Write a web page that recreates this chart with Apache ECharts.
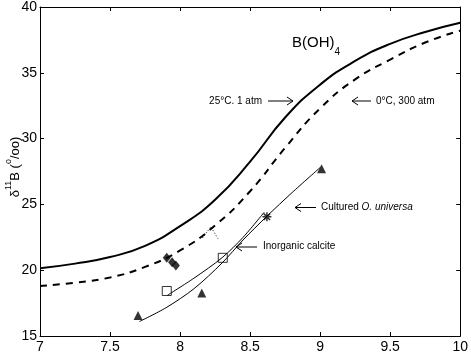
<!DOCTYPE html>
<html><head><meta charset="utf-8">
<script src="https://cdn.jsdelivr.net/npm/echarts@6/dist/echarts.min.js"></script>
<style>html,body{margin:0;padding:0;background:#fff}#c{width:471px;height:355px}</style>
</head><body><div id="c"></div>
<script>
// Tick values
const xTicks = [7, 7.5, 8, 8.5, 9, 9.5, 10];
const yTicks = [15, 20, 25, 30, 35, 40];

// B(OH)4 curve, 25°C, 1 atm (solid)
const pH25 = [7.0, 7.25, 7.5, 7.75, 8.0, 8.25, 8.5, 8.75, 9.0, 9.25, 9.5, 9.75, 10.0];
const d25  = [20.15, 20.5, 21.0, 21.85, 23.35, 25.35, 28.25, 31.6, 34.1, 35.9, 37.2, 38.1, 38.8];

// B(OH)4 curve, 0°C, 300 atm (dashed)
const pH0 = [7.0, 7.25, 7.5, 7.75, 8.0, 8.25, 8.5, 8.75, 9.0, 9.25, 9.5, 9.75, 10.0];
const d0  = [18.8, 19.05, 19.45, 20.25, 21.5, 23.4, 26.0, 29.3, 32.3, 34.5, 36.0, 37.3, 38.2];

// Cultured O. universa fit (thin line)
const pHCult = [7.71, 7.9, 8.1, 8.3, 8.45, 8.62, 8.8, 9.0];
const dCult  = [16.1, 17.15, 18.6, 20.55, 22.3, 24.1, 25.9, 27.8];

// Inorganic calcite fit (thin line)
const pHInorg = [7.91, 8.1, 8.3, 8.45, 8.6];
const dInorg  = [18.1, 19.4, 20.95, 22.5, 24.4];

// Cultured O. universa data (filled triangles)
const pHTri = [7.70, 8.155, 9.01];
const dTri  = [16.55, 18.27, 27.71];

// Inorganic calcite data (open squares)
const pHSq = [7.905, 8.305];
const dSq  = [18.42, 20.94];

// Filled diamonds
const pHDia = [7.905, 7.943, 7.97];
const dDia  = [20.94, 20.61, 20.36];

// Asterisk
const pHAst = [8.62];
const dAst  = [24.06];

// small dotted mark
const pHDot = [8.16, 8.22, 8.27];
const dDot  = [22.45, 23.3, 22.4];

const zip = (a, b) => a.map((v, i) => [v, b[i]]);

const chart = echarts.init(document.getElementById('c'), null, {renderer: 'canvas'});
const FONT = 'Liberation Sans, Arial, Helvetica, sans-serif';

const axisCommon = {
  axisLine: {show: true, lineStyle: {color: '#000', width: 1}},
  axisTick: {show: true, inside: true, length: 4, lineStyle: {color: '#000', width: 1}},
  splitLine: {show: false}
};

function arrow(x1, x2, y, headLeft) {
  const hx = headLeft ? x1 : x2;
  const d = headLeft ? 6 : -6;
  return [
    {type: 'line', shape: {x1: x1, y1: y, x2: x2, y2: y}, style: {stroke: '#000', lineWidth: 1}, silent: true},
    {type: 'polyline', shape: {points: [[hx + d, y - 4], [hx, y], [hx + d, y + 4]]}, style: {stroke: '#000', lineWidth: 1, fill: null}, silent: true}
  ];
}

const option = {
  animation: false,
  backgroundColor: '#fff',
  grid: {left: 40, right: 9, top: 5, bottom: 19, containLabel: false},
  xAxis: [
    Object.assign({type: 'value', min: 7, max: 10, interval: 0.5, position: 'bottom',
      axisLabel: {color: '#000', fontSize: 14, fontFamily: FONT, margin: 4}}, axisCommon),
    Object.assign({type: 'value', min: 7, max: 10, interval: 0.5, position: 'top',
      axisLabel: {show: false}}, axisCommon)
  ],
  yAxis: [
    Object.assign({type: 'value', min: 15, max: 40, interval: 5, position: 'left',
      axisLabel: {color: '#000', fontSize: 14, fontFamily: FONT, margin: 3}}, axisCommon),
    Object.assign({type: 'value', min: 15, max: 40, interval: 5, position: 'right',
      axisLabel: {show: false}}, axisCommon)
  ],
  series: [
    {type: 'line', data: zip(pH25, d25), smooth: 0.5, symbol: 'none',
     lineStyle: {color: '#000', width: 2}},
    {type: 'line', data: zip(pH0, d0), smooth: 0.5, symbol: 'none',
     lineStyle: {color: '#000', width: 2, type: [7, 6]}},
    {type: 'line', data: zip(pHCult, dCult), smooth: 0.3, symbol: 'none',
     lineStyle: {color: '#000', width: 1}},
    {type: 'line', data: zip(pHInorg, dInorg), smooth: 0.3, symbol: 'none',
     lineStyle: {color: '#000', width: 1}},
    {type: 'line', data: zip(pHDot, dDot), symbol: 'none',
     lineStyle: {color: '#000', width: 1, type: [1, 2]}},
    {type: 'scatter', data: zip(pHTri, dTri), symbol: 'triangle', symbolSize: 9,
     itemStyle: {color: '#000'}},
    {type: 'scatter', data: zip(pHSq, dSq), symbol: 'rect', symbolSize: 9,
     itemStyle: {color: '#fff', borderColor: '#000', borderWidth: 1}},
    {type: 'scatter', data: zip(pHDia, dDia), symbol: 'diamond', symbolSize: [8, 10],
     itemStyle: {color: '#000'}},
    {type: 'scatter', data: zip(pHAst, dAst), symbol: 'path://M0,-5L0,5M-5,0L5,0M-3.5,-3.5L3.5,3.5M-3.5,3.5L3.5,-3.5',
     symbolSize: 9, itemStyle: {color: 'none', borderColor: '#000', borderWidth: 1.5}}
  ],
  graphic: [
    {type: 'text', left: 292, top: 35, silent: true,
     style: {text: '{a|B(OH)}{b|4}', rich: {
       a: {fontSize: 15, fontFamily: FONT, fill: '#000', lineHeight: 22, verticalAlign: 'top'},
       b: {fontSize: 10, fontFamily: FONT, fill: '#000', lineHeight: 22, verticalAlign: 'bottom'}}}},
    {type: 'text', x: 262, y: 101, silent: true,
     style: {text: '25°C. 1 atm', fontSize: 10, fontFamily: FONT, fill: '#000', align: 'right', verticalAlign: 'middle'}},
    ...arrow(268, 293, 101, false),
    {type: 'text', x: 376, y: 101, silent: true,
     style: {text: '0°C, 300 atm', fontSize: 10, fontFamily: FONT, fill: '#000', align: 'left', verticalAlign: 'middle'}},
    ...arrow(352, 371, 101, true),
    {type: 'text', x: 321, y: 207, silent: true,
     style: {text: '{n|Cultured }{i|O. universa}', verticalAlign: 'middle', rich: {
       n: {fontSize: 10, fontFamily: FONT, fill: '#000'},
       i: {fontSize: 10, fontFamily: FONT, fill: '#000', fontStyle: 'italic'}}}},
    ...arrow(295, 316, 207.5, true),
    {type: 'text', x: 263, y: 246, silent: true,
     style: {text: 'Inorganic calcite', fontSize: 10, fontFamily: FONT, fill: '#000', align: 'left', verticalAlign: 'middle'}},
    ...arrow(236, 257, 247, true),
    {type: 'text', x: 13, y: 167, rotation: Math.PI / 2, silent: true,
     style: {text: '{d|δ}{s|11}{d|B (}{s|o}{d|/oo)}', align: 'center', verticalAlign: 'middle', rich: {
       d: {fontSize: 13, fontFamily: FONT, fill: '#000', lineHeight: 18, verticalAlign: 'bottom'},
       s: {fontSize: 9, fontFamily: FONT, fill: '#000', lineHeight: 18, verticalAlign: 'top'}}}}
  ]
};
chart.setOption(option);
</script>
</body></html>
